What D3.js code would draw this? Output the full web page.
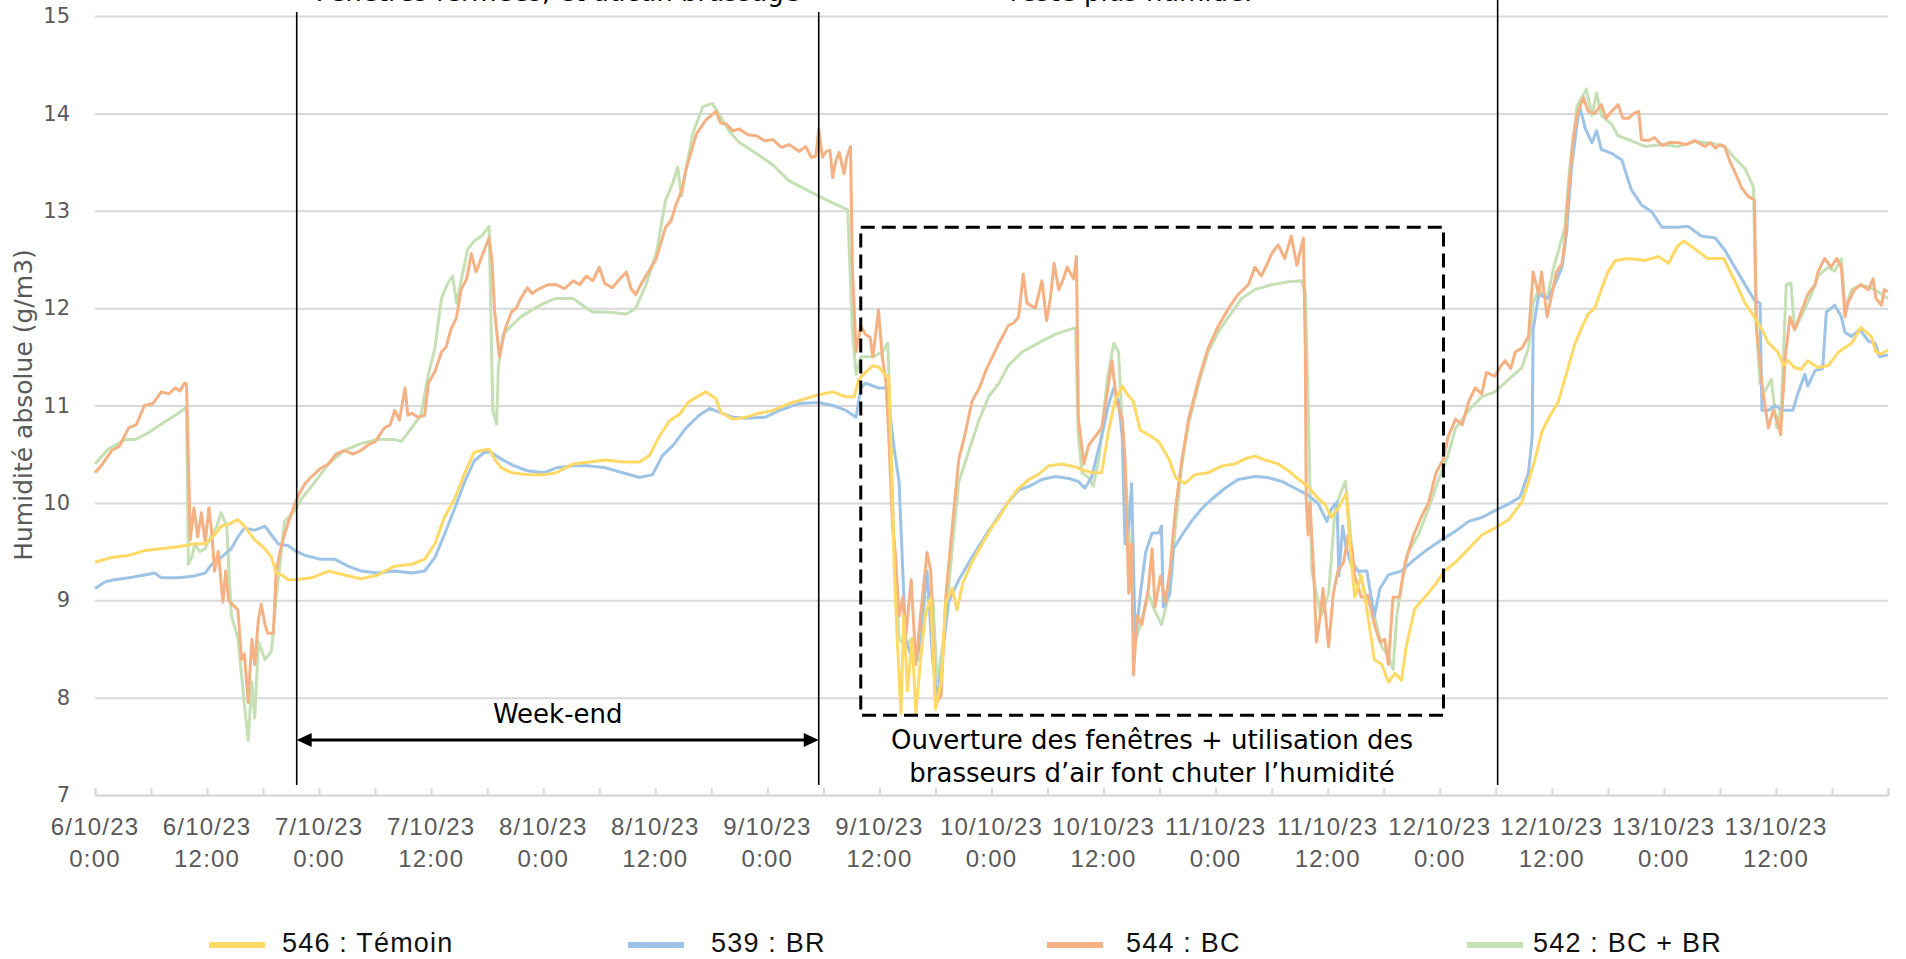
<!DOCTYPE html>
<html>
<head>
<meta charset="utf-8">
<script src="https://cdn.jsdelivr.net/npm/d3@7"></script>
<style>
  body { margin: 0; background: #fff; }
  svg { display: block; }
</style>
</head>
<body>
<svg id="chart" width="1906" height="959"></svg>
<script>
// Absolute humidity in four offices, 6/10/23 0:00 to 14/10/23 0:00.
// Each series is a list of [hours since 6/10/23 0:00, g/m3].
const startDate = new Date(2023, 9, 6, 0, 0);
const spanHours = 192;

const seriesNames = ["546 : Témoin", "539 : BR", "544 : BC", "542 : BC + BR"];
const seriesColors = ["#FFD966", "#9DC3E6", "#F4B183", "#C5E0B4"];
const yTicks = [7, 8, 9, 10, 11, 12, 13, 14, 15];
const xTickHours = d3.range(0, 193, 6);
const xLabelHours = d3.range(0, 181, 12);

// Annotation anchors (hours) and labels
const markerHours = [21.6, 77.5, 150.2];
const weekendLabel = "Week-end";
const boxHours = [82.0, 144.4];
const boxValues = [7.82, 12.83];
const boxLines = ["Ouverture des fenêtres + utilisation des", "brasseurs d’air font chuter l’humidité"];
const topNotes = ["Fenêtres fermées, et aucun brassage", "reste plus humide."];

const s546 = [[0,9.39],[1.8,9.44],[3.6,9.46],[5.3,9.51],[7.1,9.53],[8.9,9.55],[10.7,9.58],[11.8,9.58],[12.8,9.67],[13.5,9.76],[14.3,9.78],[15.3,9.83],[16,9.76],[17.1,9.62],[18.2,9.53],[18.9,9.44],[19.4,9.28],[20,9.26],[20.7,9.21],[21.4,9.21],[23.2,9.23],[25,9.3],[26.7,9.26],[28.5,9.22],[30.3,9.26],[32.1,9.35],[33.9,9.37],[35.3,9.42],[36.4,9.58],[37.4,9.85],[38.5,10.04],[39.6,10.31],[40.6,10.52],[41.5,10.54],[42.2,10.55],[42.8,10.45],[43.5,10.36],[44.6,10.31],[46.3,10.29],[48.1,10.29],[49.4,10.31],[51.2,10.4],[52.9,10.42],[54.7,10.44],[56.5,10.42],[58.3,10.42],[59.4,10.49],[60.4,10.68],[61.5,10.84],[62.6,10.91],[63.6,11.04],[65.4,11.14],[66.5,11.07],[67,10.93],[68.3,10.86],[69.7,10.88],[71.1,10.92],[72.6,10.95],[74.3,11.02],[76.1,11.07],[77.5,11.11],[79,11.14],[80.4,11.09],[81.3,11.09],[81.8,11.27],[82.5,11.34],[83.3,11.41],[84,11.39],[84.7,11.3],[85,11.3],[85.2,10.68],[85.6,9.3],[85.9,8.61],[86.3,7.84],[86.6,8.84],[87,8.07],[87.5,8.61],[87.9,7.84],[88.4,8.39],[88.9,8.84],[89.5,9.03],[90,7.88],[90.6,8.16],[91.1,8.98],[91.8,9.12],[92.3,8.9],[92.9,9.17],[93.9,9.39],[95,9.58],[96.1,9.76],[96.8,9.85],[97.8,10.01],[98.9,10.15],[100,10.24],[101,10.29],[102.1,10.38],[103.5,10.4],[105,10.37],[106,10.33],[106.9,10.31],[107.8,10.31],[108.5,10.72],[109.2,11.04],[110,11.2],[110.5,11.12],[111.2,11.04],[111.9,10.75],[112.8,10.7],[113.9,10.63],[115,10.45],[115.7,10.26],[116.7,10.2],[117.8,10.29],[119.2,10.31],[120.7,10.38],[122.1,10.4],[123.1,10.45],[124.2,10.48],[125.3,10.44],[126.7,10.4],[127.8,10.33],[128.9,10.24],[129.9,10.17],[131,10.04],[131.7,9.99],[132.4,9.85],[133.1,9.94],[134,10.1],[134.4,9.53],[134.9,9.03],[135.6,9.25],[136.3,8.84],[137,8.39],[137.8,8.34],[138.5,8.16],[139.2,8.25],[139.9,8.18],[140.4,8.52],[141.3,8.91],[142.4,9.03],[143.5,9.16],[144.5,9.3],[145.7,9.39],[147.1,9.53],[148.5,9.67],[149.9,9.74],[151.4,9.83],[152.8,10.01],[153.5,10.22],[154.2,10.45],[154.9,10.72],[155.6,10.86],[156.7,11.04],[157.8,11.41],[158.5,11.64],[159.2,11.8],[159.9,11.94],[160.6,12],[161.3,12.19],[162,12.37],[162.8,12.49],[164.2,12.51],[166,12.49],[167.4,12.53],[168.5,12.46],[169.4,12.63],[170.1,12.69],[171,12.63],[171.7,12.58],[172.7,12.51],[174.4,12.51],[175.6,12.28],[176.7,12.05],[177.7,11.91],[178.5,11.78],[179.2,11.64],[180.2,11.55],[180.8,11.41],[181.3,11.46],[182,11.39],[182.7,11.37],[183.4,11.46],[184.5,11.39],[185.6,11.41],[186.7,11.55],[188.1,11.64],[189.1,11.8],[190.2,11.71],[190.7,11.55],[191.3,11.53],[192,11.57]];

const s539 = [[0,9.12],[1.1,9.19],[2.1,9.21],[3.6,9.23],[5.3,9.26],[6.4,9.28],[7.1,9.23],[8.9,9.23],[10.7,9.25],[11.8,9.28],[12.5,9.37],[13.5,9.44],[14.6,9.53],[15.3,9.65],[16,9.74],[17.1,9.72],[18.2,9.76],[18.9,9.67],[19.6,9.58],[20.7,9.56],[21.4,9.51],[22.5,9.46],[24.2,9.42],[25.7,9.42],[27.1,9.35],[28.5,9.3],[30.3,9.28],[32.1,9.3],[33.9,9.28],[35.3,9.3],[36.4,9.44],[37.4,9.67],[38.5,9.94],[39.6,10.22],[40.6,10.43],[41.7,10.52],[42.4,10.52],[43.5,10.45],[44.9,10.38],[46.3,10.33],[48.1,10.31],[49.4,10.36],[51.2,10.38],[52.9,10.38],[54.7,10.36],[56.5,10.31],[58.3,10.26],[59.7,10.29],[60.8,10.49],[61.9,10.59],[63.3,10.77],[64.7,10.9],[65.8,10.97],[66.9,10.93],[68.3,10.88],[69.7,10.87],[71.8,10.88],[73.3,10.95],[75.4,11.02],[77.5,11.03],[79,11],[80.4,10.95],[81.5,10.88],[82,11.18],[82.5,11.23],[83.9,11.18],[84.9,11.18],[85.2,10.86],[85.6,10.54],[86.1,10.22],[86.5,9.3],[86.8,8.61],[87.5,8.39],[88.2,8.48],[89.1,9.3],[89.7,8.39],[90.2,7.97],[90.7,8.39],[91.4,8.98],[92.5,9.21],[93.9,9.44],[95.4,9.67],[96.8,9.87],[97.8,10.01],[98.9,10.13],[100,10.17],[101.4,10.24],[102.8,10.27],[104.3,10.25],[105.3,10.22],[106,10.15],[106.7,10.26],[107.8,10.68],[108.5,11],[109.1,11.18],[109.6,11.04],[110,10.68],[110.3,9.58],[110.7,9.76],[111,10.2],[111.4,8.57],[111.9,9.03],[112.5,9.49],[113.2,9.69],[113.9,9.69],[114.2,9.76],[114.4,8.93],[115.1,9.07],[115.5,9.53],[116.4,9.67],[117.4,9.81],[118.5,9.94],[119.6,10.04],[121,10.15],[122.4,10.24],[124.2,10.27],[125.6,10.26],[127.1,10.22],[128.5,10.15],[129.9,10.08],[131,9.99],[131.9,9.81],[132.4,9.94],[133,10.01],[133.2,9.25],[133.6,9.76],[134,9.53],[134.6,9.35],[135.3,9.3],[136.2,9.3],[136.5,9.12],[137,8.84],[137.6,9.12],[138.5,9.26],[139.9,9.3],[141.3,9.42],[142.8,9.53],[144.2,9.62],[145.7,9.71],[147.1,9.81],[148.5,9.85],[149.9,9.92],[151.4,9.99],[152.6,10.06],[153.5,10.31],[153.9,10.68],[154,11.78],[154.6,12.14],[155.6,12.1],[156.3,12.24],[157.1,12.42],[157.6,12.79],[158.1,13.43],[158.7,13.89],[159,14.07],[159.6,13.84],[160.3,13.7],[160.8,13.82],[161.3,13.63],[162.4,13.59],[163.5,13.52],[164.5,13.22],[165.6,13.06],[166.7,12.99],[167.8,12.83],[169.5,12.83],[170.6,12.84],[172,12.74],[173.5,12.72],[174.5,12.6],[175.6,12.42],[176.7,12.24],[177.7,12.08],[178.3,12.05],[178.5,10.95],[179.2,10.95],[179.9,11],[180.8,10.95],[181.8,10.95],[182.4,11.14],[183.1,11.32],[183.4,11.2],[184.2,11.36],[185,11.38],[185.4,11.96],[186.3,12.03],[187,11.91],[187.4,11.75],[188.1,11.71],[189,11.78],[189.9,11.66],[190.6,11.64],[191.1,11.5],[192,11.52]];

const s544 = [[0,10.31],[0.8,10.4],[1.8,10.54],[2.6,10.58],[3.6,10.77],[4.4,10.8],[5.3,11],[6.2,11.02],[7.1,11.14],[7.9,11.12],[8.6,11.18],[9.1,11.15],[9.6,11.23],[9.8,11.22],[10.2,9.62],[10.6,9.95],[11,9.65],[11.4,9.9],[11.8,9.6],[12.2,9.95],[12.5,9.7],[12.8,9.3],[13.2,9.5],[13.7,8.98],[14,9.3],[14.3,9],[14.8,8.95],[15.3,8.9],[15.7,8.39],[16,8.45],[16.4,7.95],[16.8,8.6],[17.1,8.34],[17.5,8.8],[17.8,8.96],[18.2,8.75],[18.5,8.66],[19.1,8.66],[19.4,9.3],[20,9.58],[20.7,9.8],[21.4,9.99],[21.9,10.1],[22.5,10.2],[23.2,10.27],[24.1,10.35],[25,10.4],[25.8,10.5],[26.7,10.54],[27.6,10.5],[28.5,10.54],[29.3,10.6],[30,10.63],[31,10.77],[31.6,10.8],[32.1,10.95],[32.6,10.85],[33.2,11.18],[33.5,10.9],[33.9,10.92],[34.6,10.88],[35.3,10.9],[35.7,11.23],[36.4,11.35],[37.1,11.55],[37.6,11.6],[38.1,11.78],[38.7,11.9],[39.2,12.19],[39.8,12.3],[40.3,12.56],[40.8,12.37],[41.3,12.5],[41.7,12.6],[42.2,12.72],[42.5,12.5],[42.8,11.96],[43.3,11.5],[43.9,11.78],[44.6,11.96],[45.1,12],[45.6,12.1],[46.3,12.21],[46.8,12.15],[47.4,12.19],[48.5,12.24],[49.4,12.24],[50.3,12.2],[51.2,12.28],[51.9,12.24],[52.6,12.33],[53.3,12.28],[54,12.42],[54.6,12.25],[55.4,12.21],[56.2,12.3],[56.9,12.37],[57.4,12.2],[57.9,12.14],[58.5,12.25],[59,12.33],[60.1,12.51],[61.1,12.83],[61.7,12.9],[62.2,13.06],[62.8,13.2],[63.3,13.43],[64.4,13.79],[65.4,13.93],[66.5,14.02],[67,13.9],[67.6,13.89],[68.3,13.82],[69,13.84],[69.9,13.78],[70.8,13.77],[71.7,13.72],[72.6,13.73],[73.5,13.65],[74.3,13.68],[75.4,13.61],[76.1,13.66],[76.7,13.55],[77.2,13.56],[77.5,13.84],[77.9,13.55],[78.3,13.61],[78.7,13.62],[79,13.34],[79.3,13.5],[79.7,13.6],[80.2,13.38],[80.5,13.55],[80.9,13.66],[81.1,12.42],[81.5,11.55],[82,11.82],[82.5,11.73],[83,11.7],[83.3,11.5],[83.9,11.98],[84.3,11.5],[84.7,11.23],[85,10.68],[85.4,9.76],[85.7,9.49],[86.1,8.84],[86.5,9.03],[86.8,8.61],[87.4,9.21],[87.9,8.34],[88.4,8.84],[89.1,9.49],[89.5,9.3],[90,7.93],[90.6,8.02],[91.1,9.03],[91.8,9.76],[92.5,10.45],[93.2,10.72],[93.9,11.04],[94.7,11.18],[95.4,11.36],[96.1,11.5],[96.8,11.64],[97.8,11.82],[98.4,11.85],[98.9,11.91],[99.4,12.35],[99.8,12.05],[100.7,12],[101.4,12.28],[101.9,11.87],[102.3,12.1],[102.7,12.46],[103.2,12.19],[103.7,12.3],[104.1,12.42],[104.8,12.3],[105.1,12.53],[105.3,10.86],[105.9,10.4],[106.4,10.59],[107.1,10.68],[107.8,10.77],[108.4,11.14],[108.9,11.46],[109.4,11.04],[110,10.86],[110.3,10.45],[110.7,9.07],[111,9.58],[111.2,8.23],[111.6,8.84],[112.1,8.75],[112.8,9.12],[113.2,9.53],[113.5,8.93],[114.1,9.25],[114.6,8.98],[115.1,9.3],[115.7,9.94],[116.4,10.45],[117.1,10.86],[118.2,11.27],[119.2,11.59],[120.3,11.82],[121.4,12],[122.4,12.14],[123.5,12.24],[124.2,12.42],[124.9,12.33],[125.5,12.45],[126,12.56],[126.7,12.65],[127.4,12.51],[128.1,12.74],[128.7,12.44],[129.4,12.72],[129.6,11.59],[129.7,10.04],[129.9,9.67],[130.1,10],[130.5,9.3],[130.8,8.57],[131.2,8.84],[131.5,9.12],[132.1,8.52],[132.6,9.07],[133.1,9.3],[133.7,9.39],[134.2,9.67],[134.6,9.53],[134.9,9.25],[135.6,9.03],[136.3,9.05],[137,8.75],[137.6,8.57],[138.1,8.6],[138.5,8.34],[139,9.03],[139.7,9.03],[140.3,9.39],[141.2,9.67],[142,9.85],[142.8,10],[143.6,10.31],[144.4,10.45],[144.9,10.68],[145.7,10.86],[146.4,10.8],[147.1,11.04],[147.8,11.18],[148.5,11.12],[149,11.34],[149.9,11.3],[150.5,11.4],[151,11.46],[151.6,11.38],[152.1,11.55],[152.8,11.59],[153.5,11.71],[154,12.37],[154.6,12.14],[154.9,12.37],[155.5,11.91],[156,12.14],[156.5,12.37],[157.1,12.46],[157.4,12.69],[157.8,13.2],[158.3,13.75],[158.8,14.02],[159.4,14.16],[159.9,14.02],[160.6,14],[161.3,14.09],[161.8,13.95],[162.4,14.02],[163.1,14.09],[163.6,13.95],[164.2,13.95],[164.8,14],[165.3,14.02],[165.6,13.73],[166.3,13.72],[167,13.75],[167.8,13.67],[168.6,13.7],[169.5,13.7],[170.4,13.68],[171.3,13.72],[172.4,13.66],[173,13.7],[173.5,13.64],[174,13.68],[174.5,13.66],[175.1,13.5],[175.6,13.4],[176.3,13.24],[177,13.15],[177.7,13.11],[177.9,11.82],[178.3,11.41],[178.6,11.14],[179.2,10.77],[179.7,10.95],[180.1,10.86],[180.5,10.7],[181,11.5],[181.5,11.91],[182,11.78],[182.7,11.96],[183.4,12.14],[184.2,12.24],[184.5,12.37],[185.2,12.51],[185.9,12.42],[186.5,12.51],[187,12.42],[187.4,11.91],[187.7,12.05],[188.4,12.19],[189.1,12.24],[189.9,12.19],[190.4,12.3],[190.7,12.1],[191.3,12.03],[191.6,12.19],[192,12.17]];

const s542 = [[0,10.4],[1.4,10.55],[3.2,10.65],[4.3,10.65],[5.7,10.72],[7.1,10.81],[8.6,10.9],[9.6,10.97],[9.8,10.98],[10,9.37],[10.4,9.45],[10.7,9.58],[11.2,9.5],[11.8,9.53],[12.5,9.67],[13,9.75],[13.5,9.9],[14.1,9.76],[14.6,8.84],[15.3,8.61],[16,7.93],[16.4,7.56],[16.8,8.16],[17.1,7.79],[17.5,8.57],[18.2,8.39],[18.9,8.48],[19.4,9.03],[20.3,9.81],[21.4,9.92],[22.1,10.04],[23.2,10.17],[25,10.4],[26.7,10.54],[28.5,10.61],[30.3,10.65],[32.1,10.65],[32.8,10.63],[33.9,10.77],[34.9,10.9],[35.7,11.32],[36.4,11.59],[37.1,12.1],[37.8,12.26],[38.3,12.33],[38.7,12.05],[39.2,12.28],[39.9,12.6],[40.6,12.69],[41.4,12.74],[42.2,12.84],[42.6,10.95],[43,10.81],[43.2,11.4],[43.7,11.73],[44.6,11.82],[45.6,11.91],[47.1,12],[48.5,12.07],[49.4,12.1],[51.2,12.1],[52.2,12.03],[53.3,11.96],[54.7,11.96],[56.9,11.94],[57.9,12],[59,12.24],[60.1,12.56],[61.1,13.11],[61.9,13.29],[62.4,13.45],[62.8,13.15],[63.3,13.43],[64,13.79],[65.1,14.07],[66.1,14.1],[66.9,13.98],[67.9,13.82],[69,13.7],[70.8,13.59],[72.6,13.47],[74.3,13.31],[76.1,13.22],[77.5,13.15],[79,13.08],[80.6,13.01],[81.1,11.78],[81.5,11.32],[82,11.5],[83.3,11.5],[84.3,11.55],[84.9,11.64],[85.2,10.68],[85.6,9.53],[86.1,8.61],[86.8,8.52],[87.5,8.61],[88.2,8.39],[88.9,9.03],[89.7,9.03],[90.2,8.16],[90.9,8.61],[91.8,9.53],[92.5,10.22],[93.6,10.54],[94.7,10.86],[95.7,11.09],[96.8,11.23],[97.8,11.41],[99.3,11.55],[101,11.64],[102.8,11.73],[105,11.8],[105.3,10.68],[105.7,10.31],[106.4,10.26],[106.9,10.17],[107.5,10.45],[108.4,11.27],[109.1,11.64],[109.6,11.55],[110.1,10.63],[110.7,9.76],[111.4,8.57],[112.1,8.8],[112.8,9.07],[113.5,8.89],[114.2,8.75],[115,9.05],[115.7,9.76],[116.4,10.4],[117.1,10.81],[118.2,11.23],[119.2,11.55],[120.3,11.76],[121.4,11.91],[122.8,12.1],[124.2,12.19],[126,12.24],[127.8,12.27],[129.2,12.28],[129.6,12.15],[129.9,11.04],[130.3,9.3],[130.8,9.07],[131.3,8.84],[132.1,9.07],[132.8,9.94],[133.5,10.13],[133.9,10.22],[134.2,9.94],[134.7,9.39],[135.3,9.3],[136,9.07],[137,8.84],[137.8,8.52],[138.5,8.43],[139,8.29],[139.4,8.84],[139.9,9.16],[140.6,9.49],[141.7,9.67],[142.8,9.94],[143.8,10.22],[144.9,10.49],[145.7,10.77],[147.1,10.95],[148.5,11.09],[149.9,11.14],[151.4,11.27],[152.8,11.39],[153.5,11.59],[154,12.05],[154.6,12.19],[155.5,12.1],[156.2,12.42],[156.9,12.65],[157.4,12.83],[157.9,13.43],[158.7,14.07],[159.7,14.25],[160.3,13.98],[160.8,14.21],[161.3,13.98],[162.4,13.89],[163.1,13.77],[164.2,13.73],[166,13.66],[167.8,13.68],[169.5,13.66],[171.3,13.71],[173.1,13.69],[174.5,13.66],[175.6,13.54],[176.7,13.43],[177.6,13.24],[177.9,11.82],[178.3,11.23],[178.8,11.14],[179.5,11.27],[180.1,10.77],[180.6,11.04],[181.1,12.24],[181.6,12.26],[182,11.78],[182.7,11.91],[183.8,12.14],[184.5,12.33],[185.6,12.42],[186.3,12.38],[187,12.51],[187.4,12],[188.1,12.19],[189.1,12.24],[190.6,12.19],[192,12.1]];

const seriesData = [s546, s539, s544, s542];
const drawOrder = [3, 1, 2, 0];

// ---- layout ----
const plot = { left: 95, right: 1888, top: 16, bottom: 795 };
const svg = d3.select("#chart");
svg.append("rect").attr("width", 1906).attr("height", 959).attr("fill", "#fff");

const hourToDate = h => new Date(startDate.getTime() + h * 3600e3);
const x = d3.scaleTime()
  .domain([startDate, hourToDate(spanHours)])
  .range([plot.left, plot.right]);
const y = d3.scaleLinear().domain([7, 15]).range([plot.bottom, plot.top]);

const gridColor = "#D9D9D9";
const axisFont = "'DejaVu Sans', sans-serif";
const narrowFont = "'Liberation Sans Narrow', 'Liberation Sans', Arial, sans-serif";

// horizontal gridlines + y labels
const yAxis = d3.axisLeft(y).tickValues(yTicks).tickSize(-(plot.right - plot.left)).tickPadding(25).tickFormat(d3.format("d"));
const gy = svg.append("g").attr("transform", `translate(${plot.left},0)`).call(yAxis);
gy.select(".domain").remove();
gy.selectAll(".tick line").attr("stroke", gridColor).attr("stroke-width", 2);
gy.selectAll(".tick text")
  .attr("fill", "#595959").attr("font-family", axisFont).attr("font-size", 21);

// x axis line with upward ticks every 6 h
const xAxis = d3.axisBottom(x).tickValues(xTickHours.map(hourToDate)).tickSize(-7).tickFormat(() => "");
const gx = svg.append("g").attr("transform", `translate(0,${plot.bottom})`).call(xAxis);
gx.select(".domain").attr("stroke", gridColor).attr("stroke-width", 2);
gx.selectAll(".tick line").attr("stroke", gridColor).attr("stroke-width", 2);

// two-line date labels
const fmtDate = d3.timeFormat("%-d/%m/%y");
const fmtTime = d3.timeFormat("%-H:%M");
const labels = svg.append("g")
  .attr("font-family", narrowFont).attr("font-size", 24).attr("fill", "#595959")
  .attr("text-anchor", "middle").attr("letter-spacing", 1.2);
xLabelHours.forEach(h => {
  const d = hourToDate(h);
  const t = labels.append("text").attr("x", x(d));
  t.append("tspan").attr("x", x(d)).attr("y", 835).text(fmtDate(d));
  t.append("tspan").attr("x", x(d)).attr("y", 867).text(fmtTime(d));
});

// y axis title
svg.append("text")
  .attr("transform", "translate(32,405) rotate(-90)")
  .attr("text-anchor", "middle")
  .attr("font-family", axisFont).attr("font-size", 25).attr("fill", "#595959")
  .text("Humidité absolue (g/m3)");

// series
const line = d3.line()
  .x(d => x(hourToDate(d[0])))
  .y(d => y(d[1]))
  .curve(d3.curveLinear);
const gLines = svg.append("g");
drawOrder.forEach(i => {
  gLines.append("path")
    .datum(seriesData[i])
    .attr("fill", "none")
    .attr("stroke", seriesColors[i])
    .attr("stroke-width", 3)
    .attr("stroke-linejoin", "round")
    .attr("d", line);
});

// vertical markers
const markerTops = [12, 12, 0];
markerHours.forEach((h, i) => {
  svg.append("line")
    .attr("x1", x(hourToDate(h))).attr("x2", x(hourToDate(h)))
    .attr("y1", markerTops[i]).attr("y2", 785)
    .attr("stroke", "#000").attr("stroke-width", 1.6);
});

// week-end arrow
const ax1 = x(hourToDate(markerHours[0])), ax2 = x(hourToDate(markerHours[1]));
const ay = 740;
svg.append("line").attr("x1", ax1 + 10).attr("x2", ax2 - 10).attr("y1", ay).attr("y2", ay)
  .attr("stroke", "#000").attr("stroke-width", 3);
svg.append("path").attr("d", `M${ax1},${ay} L${ax1 + 15},${ay - 7} L${ax1 + 15},${ay + 7} Z`).attr("fill", "#000");
svg.append("path").attr("d", `M${ax2},${ay} L${ax2 - 15},${ay - 7} L${ax2 - 15},${ay + 7} Z`).attr("fill", "#000");
svg.append("text")
  .attr("x", (ax1 + ax2) / 2).attr("y", 723)
  .attr("text-anchor", "middle").attr("font-family", axisFont).attr("font-size", 26).attr("fill", "#000")
  .text(weekendLabel);

// dashed box around the ventilation period
const bx1 = x(hourToDate(boxHours[0])), bx2 = x(hourToDate(boxHours[1]));
svg.append("rect")
  .attr("x", bx1).attr("y", y(boxValues[1]))
  .attr("width", bx2 - bx1).attr("height", y(boxValues[0]) - y(boxValues[1]))
  .attr("fill", "none").attr("stroke", "#000").attr("stroke-width", 3)
  .attr("stroke-dasharray", "14,7");
const boxText = svg.append("text")
  .attr("text-anchor", "middle").attr("font-family", axisFont).attr("font-size", 26).attr("fill", "#000");
boxLines.forEach((s, i) => {
  boxText.append("tspan").attr("x", 1152).attr("y", 749 + i * 33).text(s);
});

// notes above the plot (their upper lines run past the top edge)
const noteCenters = [(ax1 + ax2) / 2, 1131];
topNotes.forEach((s, i) => {
  svg.append("text")
    .attr("x", noteCenters[i]).attr("y", 1)
    .attr("text-anchor", "middle").attr("font-family", axisFont).attr("font-size", 26).attr("fill", "#000")
    .text(s);
});

// legend
const legendItems = [
  { sx: 209, tx: 282 },
  { sx: 628, tx: 711 },
  { sx: 1047, tx: 1126 },
  { sx: 1467, tx: 1533 }
];
const legend = svg.append("g");
legendItems.forEach((p, i) => {
  legend.append("line")
    .attr("x1", p.sx).attr("x2", p.sx + 56).attr("y1", 945).attr("y2", 945)
    .attr("stroke", seriesColors[i]).attr("stroke-width", 6);
  legend.append("text")
    .attr("x", p.tx).attr("y", 952)
    .attr("font-family", narrowFont).attr("font-size", 27).attr("fill", "#111")
    .attr("letter-spacing", 1.2)
    .text(seriesNames[i]);
});
</script>
</body>
</html>
